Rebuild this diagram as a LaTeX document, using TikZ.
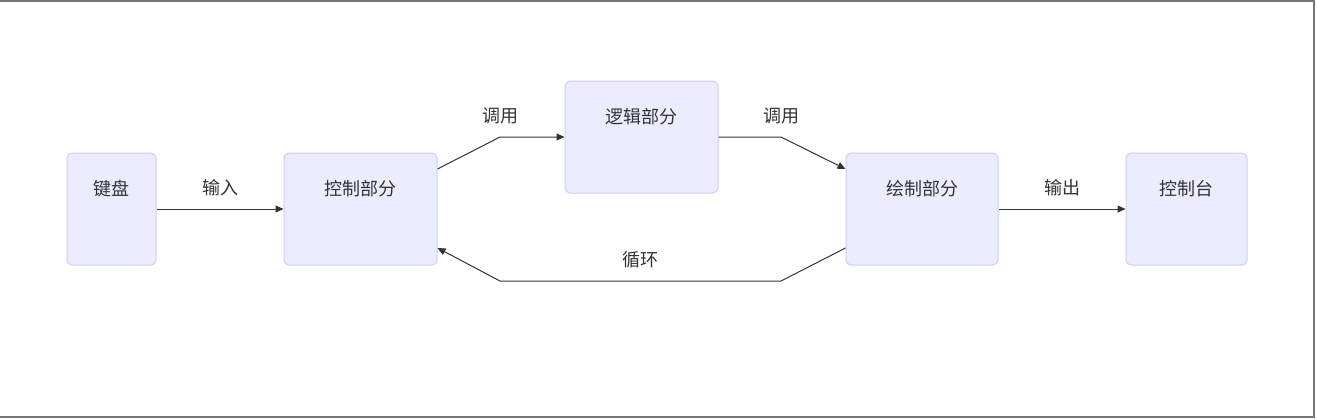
\documentclass[tikz,border=0pt]{standalone}
\usepackage{fontspec}
\setmainfont{Noto Sans CJK SC}
\usetikzlibrary{arrows.meta}
\definecolor{boxfill}{HTML}{ECECFF}
\definecolor{boxline}{HTML}{CCCCFF}
\definecolor{txt}{HTML}{333333}
\definecolor{frame}{HTML}{777777}
\begin{document}
\begin{tikzpicture}[x=1pt,y=-1pt,every node/.style={font=\fontsize{18}{20}\selectfont,text=txt},
    part/.style={rectangle,rounded corners=5pt,fill=boxfill,draw=boxline,line width=1pt,
        inner xsep=0pt,inner ysep=0pt,text height=42pt,text depth=70pt},
    flow/.style={draw=txt,line width=1pt,-{Triangle[length=8pt,width=7pt]}},
    lbl/.style={yshift=21pt,inner sep=1pt}]
    \useasboundingbox (0,0) rectangle (1317,420);
    % Frame
    \draw[frame,line width=2pt] (0,1) -- (1314,1) -- (1314,417) -- (0,417);

    % Parts
    \node (kbd) at (111.5,209) [part,minimum width=89pt] {键盘};
    \node (ctrl) at (360.5,209) [part,minimum width=153pt] {控制部分};
    \node (logic) at (641.5,137) [part,minimum width=153pt] {逻辑部分};
    \node (paint) at (922,209) [part,minimum width=152pt] {绘制部分};
    \node (cons) at (1186.5,209) [part,minimum width=121pt] {控制台};

    % Calls
    \draw[flow] (kbd) -- node[lbl] {输入} (ctrl);
    \draw[flow] ([yshift=40pt]ctrl.east) -- (500,137) node[lbl] {调用} -- (logic.west);
    \draw[flow] (logic.east) -- (781,137) node[lbl] {调用} -- ([yshift=40pt]paint.west);
    \draw[flow] (paint) -- node[lbl] {输出} (cons);

    % Loop back
    \draw[flow] ([yshift=-39pt]paint.west) -- (781,281) -- node[lbl] {循环} (500,281) -- ([yshift=-39pt]ctrl.east);
\end{tikzpicture}
\end{document}
